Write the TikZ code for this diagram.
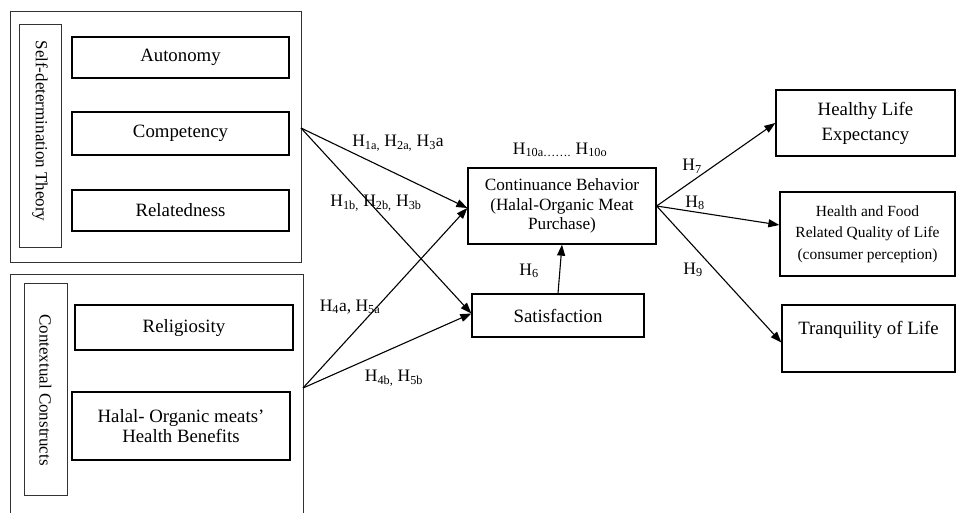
\documentclass[tikz,border=0pt]{standalone}
\usepackage{fontspec}
\setmainfont{Liberation Serif}
\usetikzlibrary{arrows.meta}
\tikzset{
  box/.style={draw=black, line width=1.3pt, inner sep=2pt, align=center, anchor=center},
  thinbox/.style={draw=black!80, line width=0.9pt, inner sep=0pt},
  big/.style={font=\fontsize{18.8}{22}\selectfont},
  mid/.style={font=\fontsize{17.2}{19.5}\selectfont},
  sml/.style={font=\fontsize{15.5}{21.5}\selectfont},
  hlab/.style={font=\fontsize{17.5}{20}\selectfont, inner sep=0pt},
  arr/.style={line width=1.1pt, -{Triangle[length=11pt,width=8pt]}}
}
\begin{document}
\begin{tikzpicture}[x=1pt,y=-1pt]
\useasboundingbox (0,0) rectangle (958,512);
% Self-determination theory group
\node[thinbox, minimum width=291pt, minimum height=251pt] (sdt) at (155.5,136.5) {};
\node[thinbox, minimum width=42pt, minimum height=223pt] (sdtlab) at (40,135.5) {};
\node[rotate=-90, font=\fontsize{17}{20}\selectfont] at (40,131) {Self-determination Theory};
\node[box, big, minimum width=217pt, minimum height=41pt] (auto) at (180.5,57.5) {Autonomy};
\node[box, big, minimum width=217pt, minimum height=43pt] (comp) at (180.5,133.5) {Competency};
\node[box, big, minimum width=217pt, minimum height=41pt] (rel) at (180.5,210.5) {Relatedness};
% Contextual constructs group
\draw[black!80, line width=0.9pt] (10,515) -- (10,274) -- (303,274) -- (303,515);
\node[thinbox, minimum width=43pt, minimum height=212pt] (ctxlab) at (45.5,389) {};
\node[rotate=-90, font=\fontsize{17}{20}\selectfont] at (45.5,390) {Contextual Constructs};
\node[box, big, minimum width=218pt, minimum height=45pt] (relig) at (184,327.5) {Religiosity};
\node[box, minimum width=218pt, minimum height=68pt, font=\fontsize{18.8}{20}\selectfont] (halal) at (181,426) {Halal- Organic meats'\\Health Benefits};
% central
\node[box, mid, minimum width=188pt, minimum height=76pt] (cont) at (562,206) {Continuance Behavior\\(Halal-Organic Meat\\Purchase)};
\node[box, big, minimum width=172pt, minimum height=43pt] (sat) at (558,315.5) {Satisfaction};
% outcomes
\node[box, minimum width=179pt, minimum height=66pt, font=\fontsize{18.8}{25}\selectfont] (hle) at (865.5,123) {Healthy Life\\Expectancy};
\node[box, sml, minimum width=175pt, minimum height=84pt] (hfq) at (867.5,234) {Health and Food\\Related Quality of Life\\(consumer perception)};
\node[box, minimum width=173pt, minimum height=67pt, font=\fontsize{18.8}{21}\selectfont] (tol) at (868.5,338.5) {Tranquility of Life\\\mbox{}};
% connector origins
\coordinate (s1) at (301,128);
\coordinate (s2) at (303,388);
% arrows
\draw[arr] (s1) -- ([yshift=-2pt]cont.west);
\draw[arr] (s1) -- ([yshift=2pt]sat.west);
\draw[arr] (s2) -- ([yshift=-2pt]cont.west);
\draw[arr] (s2) -- ([yshift=2pt]sat.west);
\draw[arr] (sat.north) -- (cont.south);
\draw[arr] (cont.east) -- (hle.west);
\draw[arr] (cont.east) -- ([yshift=9pt]hfq.west);
\draw[arr] (cont.east) -- ([yshift=-4pt]tol.west);
% labels
\node[hlab] at (398,143) {H\textsubscript{1a,} H\textsubscript{2a,} H\textsubscript{3}a};
\node[hlab] at (376,203) {H\textsubscript{1b,} H\textsubscript{2b,} H\textsubscript{3b}};
\node[hlab] at (350,307) {H\textsubscript{4}a, H\textsubscript{5a}};
\node[hlab] at (394,378) {H\textsubscript{4b,} H\textsubscript{5b}};
\node[hlab] at (560,150) {H\textsubscript{10a\dots\dots.} H\textsubscript{10o}};
\node[hlab] at (529,271) {H\textsubscript{6}};
\node[hlab] at (692,166) {H\textsubscript{7}};
\node[hlab] at (695,203) {H\textsubscript{8}};
\node[hlab] at (693,270) {H\textsubscript{9}};
\end{tikzpicture}
\end{document}
